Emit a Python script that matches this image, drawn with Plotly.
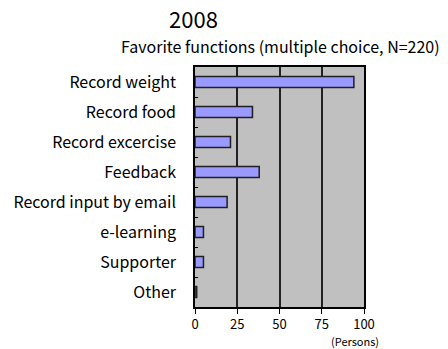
import plotly.graph_objects as go

categories = ["Record weight", "Record food", "Record excercise", "Feedback",
              "Record input by email", "e-learning", "Supporter", "Other"]
values = [94, 34, 21, 38, 19, 5, 5, 1]
x_ticks = [0, 25, 50, 75, 100]

FONT = "Noto Sans CJK JP"

fig = go.Figure(go.Bar(
    x=values, y=categories, orientation="h",
    marker=dict(color="#9999ff", line=dict(color="#202020", width=1.5)),
    width=0.37,
))

fig.update_layout(
    width=448, height=349,
    margin=dict(l=195, r=84, t=67, b=42),
    paper_bgcolor="white", plot_bgcolor="#c0c0c0",
    font=dict(family=FONT, color="black"),
    showlegend=False,
)
fig.update_xaxes(
    range=[0, 100], tickvals=x_ticks, showgrid=True, gridcolor="#222222", gridwidth=1.5,
    ticks="outside", ticklen=5, tickcolor="black", tickfont=dict(size=13),
    showline=True, linecolor="black", linewidth=1.5, mirror=True, zeroline=False,
)
fig.update_yaxes(
    categoryorder="array", categoryarray=categories, autorange="reversed",
    ticks="inside", ticklen=3, tickson="boundaries", tickcolor="black",
    tickfont=dict(size=16), showline=True, linecolor="black", linewidth=1.5,
    mirror=True, showgrid=False, ticklabelstandoff=14,
)

pw = 448 - 195 - 84
ph = 349 - 67 - 42
def px(xp): return (xp - 195) / pw
def py(yp): return (349 - 42 - yp) / ph

fig.add_annotation(text="2008", x=px(193), y=py(18), xref="paper", yref="paper",
                   xanchor="center", yanchor="middle", showarrow=False, font=dict(size=22))
fig.add_annotation(text="Favorite functions (multiple choice, N=220)", xref="paper", yref="paper",
                   x=px(280), y=py(46), xanchor="center", yanchor="middle",
                   showarrow=False, font=dict(size=16))
fig.add_annotation(text="(Persons)", xref="paper", yref="paper", x=px(355), y=py(341),
                   xanchor="center", yanchor="middle", showarrow=False, font=dict(size=11))

fig.write_html("out.html")
